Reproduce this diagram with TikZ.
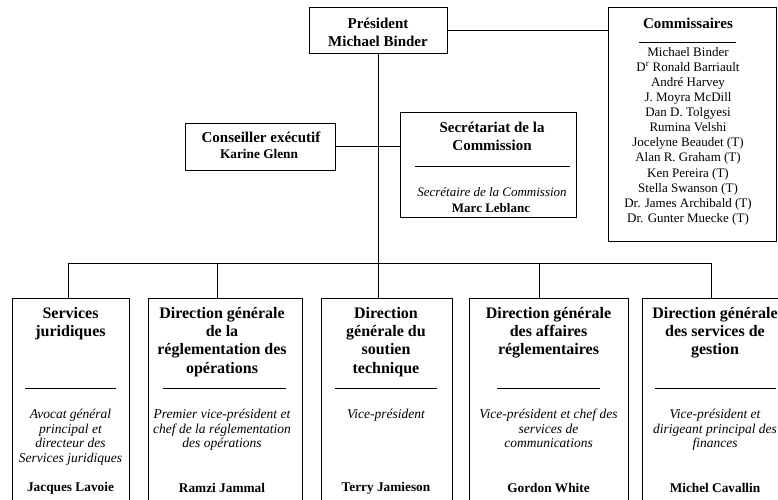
\documentclass[tikz,border=0pt]{standalone}
\usepackage{fontspec}
\setmainfont{Liberation Serif}
\begin{document}
\begin{tikzpicture}[x=1pt,y=-1pt,
  box/.style={draw, line width=0.9pt, inner sep=0pt},
  wire/.style={line width=0.9pt},
  sepline/.style={line width=0.5pt},
  ttl/.style={font=\fontsize{16}{18.3}\selectfont\bfseries, align=center, inner sep=0pt, anchor=north},
  role/.style={font=\fontsize{13.5}{14.6}\selectfont\itshape, align=center, inner sep=0pt, anchor=north},
  nm/.style={font=\fontsize{13.3}{15}\selectfont\bfseries, inner sep=0pt}]
\useasboundingbox (0,0) rectangle (778,499);
\clip (0,0) rectangle (778,499);

% boxes
\node[box, minimum width=138pt, minimum height=46pt] (pres) at (378,30) {};
\node[box, minimum width=168pt, minimum height=234pt] (comm) at (692,124) {};
\node[box, minimum width=150pt, minimum height=47pt] (cons) at (260,146.5) {};
\node[box, minimum width=176pt, minimum height=105pt] (sec) at (488,164.5) {};
\node[box, minimum width=117pt, minimum height=222pt] (b1) at (70.5,409) {};
\node[box, minimum width=154pt, minimum height=222pt] (b2) at (225,409) {};
\node[box, minimum width=131pt, minimum height=222pt] (b3) at (386.5,409) {};
\node[box, minimum width=159pt, minimum height=222pt] (b4) at (548.5,409) {};
\node[box, minimum width=146pt, minimum height=222pt] (b5) at (715,409) {};

% president
\node[font=\fontsize{15}{17.5}\selectfont\bfseries, align=center, inner sep=0pt, anchor=north] (prest) at (378,18) {Président\\Michael Binder};

% commissaires
\node[font=\fontsize{15}{17}\selectfont\bfseries, inner sep=0pt] (commt) at (688,23) {Commissaires};
\coordinate (cs1) at (639,42);
\coordinate (cs2) at (736,42);
\draw[sepline] (cs1) -- (cs2);
\node[font=\fontsize{13}{15.1}\selectfont, align=center, inner sep=0pt, anchor=north] (commn) at (688,47) {Michael Binder\\D\textsuperscript{r} Ronald Barriault\\André Harvey\\J. Moyra McDill\\Dan D. Tolgyesi\\Rumina Velshi\\Jocelyne Beaudet (T)\\Alan R. Graham (T)\\Ken Pereira (T)\\Stella Swanson (T)\\Dr. James Archibald (T)\\Dr. Gunter Muecke (T)};

% conseiller
\node[font=\fontsize{15}{17}\selectfont\bfseries, inner sep=0pt] (const) at (261,137) {Conseiller exécutif};
\node[nm] (consn) at (259,154) {Karine Glenn};

% secretariat
\node[font=\fontsize{15}{18}\selectfont\bfseries, align=center, inner sep=0pt, anchor=north] (sect) at (492,121.5) {Secrétariat de la\\Commission};
\coordinate (ss1) at (415,166);
\coordinate (ss2) at (570,166);
\draw[sepline] (ss1) -- (ss2);
\node[font=\fontsize{13}{15}\selectfont\itshape, inner sep=0pt] (secr) at (492,192) {Secrétaire de la Commission};
\node[font=\fontsize{13}{15}\selectfont\bfseries, inner sep=0pt] (secn) at (491,208) {Marc Leblanc};

% bottom titles
\node[ttl] (t1) at (70.5,307) {Services\\juridiques};
\node[ttl] (t2) at (222,307) {Direction générale\\de la\\réglementation des\\opérations};
\node[ttl] (t3) at (386,307) {Direction\\générale du\\soutien\\technique};
\node[ttl] (t4) at (548.5,307) {Direction générale\\des affaires\\réglementaires};
\node[ttl] (t5) at (715,307) {Direction générale\\des services de\\gestion};

% separators
\coordinate (s1a) at (25,388);  \coordinate (s1b) at (116,388);
\coordinate (s2a) at (163,388); \coordinate (s2b) at (286,388);
\coordinate (s3a) at (335,388); \coordinate (s3b) at (437,388);
\coordinate (s4a) at (497,388); \coordinate (s4b) at (600,388);
\coordinate (s5a) at (655,388); \coordinate (s5b) at (776,388);
\draw[sepline] (s1a) -- (s1b);
\draw[sepline] (s2a) -- (s2b);
\draw[sepline] (s3a) -- (s3b);
\draw[sepline] (s4a) -- (s4b);
\draw[sepline] (s5a) -- (s5b);

% roles
\node[role] (r1) at (70.5,409) {Avocat général\\principal et\\directeur des\\Services juridiques};
\node[role] (r2) at (222,409) {Premier vice-président et\\chef de la réglementation\\des opérations};
\node[role] (r3) at (386,409) {Vice-président};
\node[role] (r4) at (548.5,409) {Vice-président et chef des\\services de\\communications};
\node[role] (r5) at (715,409) {Vice-président et\\dirigeant principal des\\finances};

% names
\node[nm] (n1) at (70.5,488) {Jacques Lavoie};
\node[nm] (n2) at (222,488) {Ramzi Jammal};
\node[nm] (n3) at (386,488) {Terry Jamieson};
\node[nm] (n4) at (548.5,488) {Gordon White};
\node[nm] (n5) at (715,488) {Michel Cavallin};

% connectors
\coordinate (bus) at (378,263);
\coordinate (d1) at (68,263);
\coordinate (d2) at (217,263);
\coordinate (d4) at (539,263);
\coordinate (d5) at (711,263);
\draw[wire] (pres.east) -- (pres.east -| comm.west);
\draw[wire] (pres.south) -- (bus);
\draw[wire] (cons.east) -- (cons.east -| sec.west);
\draw[wire] (d1) -- (d5);
\draw[wire] (d1) -- (d1 |- b1.north);
\draw[wire] (d2) -- (d2 |- b2.north);
\draw[wire] (bus) -- (bus |- b3.north);
\draw[wire] (d4) -- (d4 |- b4.north);
\draw[wire] (d5) -- (d5 |- b5.north);
\end{tikzpicture}
\end{document}
